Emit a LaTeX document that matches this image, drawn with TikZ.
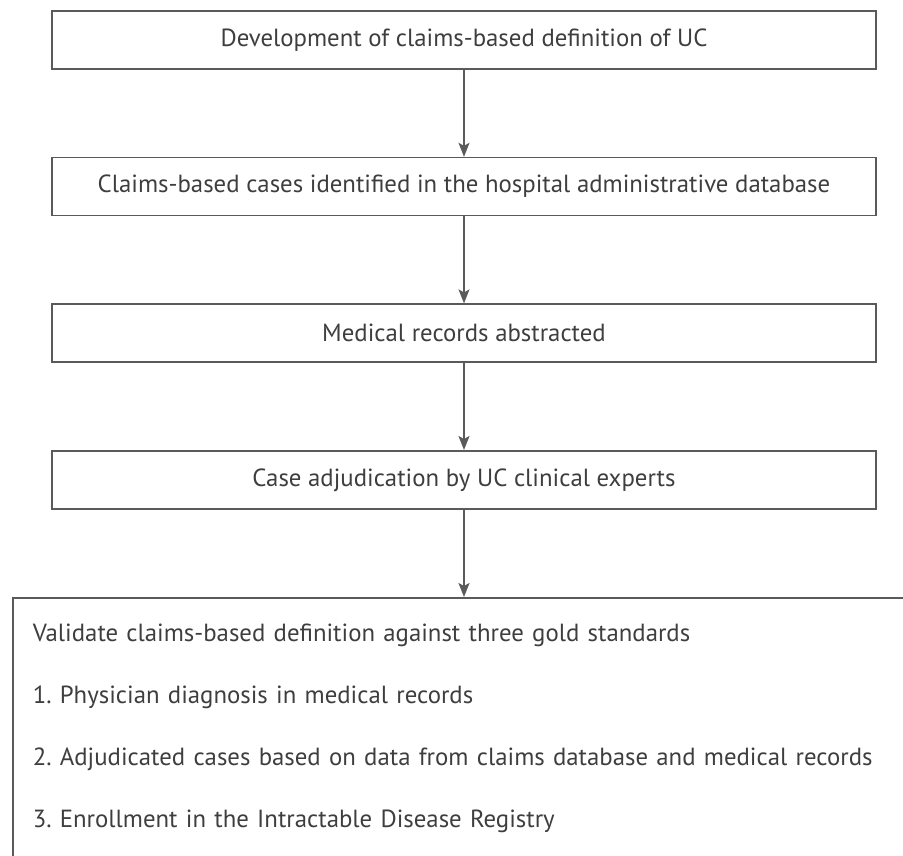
\documentclass[tikz,border=0pt]{standalone}
\usepackage{fontspec}
\setmainfont{PT Sans}
\usetikzlibrary{positioning, arrows.meta}
\definecolor{boxgray}{RGB}{90,90,90}
\definecolor{textgray}{RGB}{62,62,62}
\frenchspacing
\tikzset{
    stepbox/.style={draw=boxgray, line width=1.6pt, minimum width=824pt, minimum height=58pt,
        inner sep=0pt, text=textgray, font=\fontsize{24.8}{30}\selectfont},
    listbox/.style={draw=boxgray, line width=1.6pt, text width=880pt, align=left,
        inner xsep=20pt, inner ysep=26pt, text=textgray, font=\fontsize{24.8}{62}\selectfont},
    flow/.style={draw=boxgray, line width=1.6pt, -{Stealth[length=14pt, width=11pt, inset=3pt]}},
}
\begin{document}
\begin{tikzpicture}[x=1pt, y=1pt]
    \useasboundingbox (0,0) rectangle (903,-856);
    % boxes
    \node[stepbox] (devel) at (464,-40) {Development of claims-based definition of UC};
    \node[stepbox, below=87pt of devel] (claims) {Claims-based cases identified in the hospital administrative database};
    \node[stepbox, below=87pt of claims] (records) {Medical records abstracted};
    \node[stepbox, below=87pt of records] (adjud) {Case adjudication by UC clinical experts};
    \node[listbox, anchor=north west] (valid) at (12,-597) {Validate claims-based definition against three gold standards\\
        1. Physician diagnosis in medical records\\
        2. Adjudicated cases based on data from claims database and medical records\\
        3. Enrollment in the Intractable Disease Registry};
    % arrows
    \draw[flow] (devel) -- (claims);
    \draw[flow] (claims) -- (records);
    \draw[flow] (records) -- (adjud);
    \draw[flow] (adjud.south) -- (adjud.south |- valid.north);
\end{tikzpicture}
\end{document}
